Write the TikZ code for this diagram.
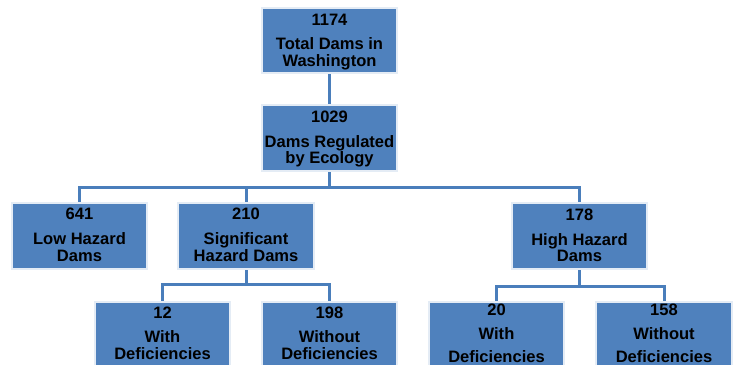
\documentclass[tikz,border=0pt]{standalone}
\usepackage{fontspec}
\setmainfont{Liberation Sans}
\definecolor{boxblue}{HTML}{4F81BD}
\definecolor{lineblue}{HTML}{4A7EBB}
\def\pxu{0.75pt}
\tikzset{
  box/.style={rectangle, fill=boxblue, draw=white!85!boxblue, line width=1.2*\pxu,
    minimum width=135*\pxu, minimum height=65*\pxu, inner sep=0pt},
  tallbox/.style={box, minimum height=90*\pxu},
  conn/.style={draw=lineblue, line width=3*\pxu, line join=miter},
  lbl/.style={anchor=base, inner sep=0pt, font=\fontsize{12.4}{14}\selectfont\bfseries, text=black}
}
\begin{document}
\begin{tikzpicture}[x=0.75pt, y=-0.75pt]
\useasboundingbox (0,0) rectangle (735,364);
\clip (0,0) rectangle (735,364);
% boxes (drawn as nodes)
\node[box] (b1) at (329.5,40.5) {};
\node[box] (b2) at (329.5,138) {};
\node[box] (b641) at (79.5,236) {};
\node[box] (b210) at (246,236) {};
\node[box] (b178) at (579.5,236) {};
\node[tallbox] (b12) at (162.5,347) {};
\node[tallbox] (b198) at (329.5,347) {};
\node[tallbox] (b20) at (496.5,347) {};
\node[tallbox] (b158) at (664,347) {};
% connectors
\coordinate (bus1) at (329.5,187.5);
\coordinate (bus2) at (246,284.5);
\coordinate (bus3) at (579.5,286);
\begin{scope}[on background layer/.style={}]
\draw[conn] (b1.south) -- (b2.north);
\draw[conn] (b2.south) -- (bus1);
\draw[conn] (b641.north) |- (bus1) -| (b178.north);
\draw[conn] (b210.north) -- (b210.north |- bus1);
\draw[conn] (b210.south) -- (bus2);
\draw[conn] (b12.north) |- (bus2) -| (b198.north);
\draw[conn] (b178.south) -- (bus3);
\draw[conn] (b20.north) |- (bus3) -| (b158.north);
\end{scope}
% redraw box outlines over connector ends
\foreach \b in {b1,b2,b641,b210,b178,b12,b198,b20,b158}{
  \draw[white!85!boxblue, line width=1.2*\pxu] (\b.north west) rectangle (\b.south east);
}
% labels
\node[lbl] (t1a) at (329.5,25) {1174};
\node[lbl] (t1b) at (329.5,49.5) {Total Dams in};
\node[lbl] (t1c) at (329.5,66) {Washington};
\node[lbl] (t2a) at (329.5,122) {1029};
\node[lbl] (t2b) at (329.5,147) {Dams Regulated};
\node[lbl] (t2c) at (329.5,163) {by Ecology};
\node[lbl] (t3a) at (79.5,219.5) {641};
\node[lbl] (t3b) at (79.5,244) {Low Hazard};
\node[lbl] (t3c) at (79.5,261) {Dams};
\node[lbl] (t4a) at (246,219.5) {210};
\node[lbl] (t4b) at (246,244) {Significant};
\node[lbl] (t4c) at (246,261) {Hazard Dams};
\node[lbl] (t5a) at (579.5,220) {178};
\node[lbl] (t5b) at (579.5,245) {High Hazard};
\node[lbl] (t5c) at (579.5,261.5) {Dams};
\node[lbl] (t6a) at (162.5,318) {12};
\node[lbl] (t6b) at (162.5,342.5) {With};
\node[lbl] (t6c) at (162.5,359.5) {Deficiencies};
\node[lbl] (t7a) at (329.5,318) {198};
\node[lbl] (t7b) at (329.5,342.5) {Without};
\node[lbl] (t7c) at (329.5,359.5) {Deficiencies};
\node[lbl] (t8a) at (496.5,315) {20};
\node[lbl] (t8b) at (496.5,339) {With};
\node[lbl] (t8c) at (496.5,362) {Deficiencies};
\node[lbl] (t9a) at (664,315) {158};
\node[lbl] (t9b) at (664,339) {Without};
\node[lbl] (t9c) at (664,362) {Deficiencies};
\end{tikzpicture}
\end{document}
